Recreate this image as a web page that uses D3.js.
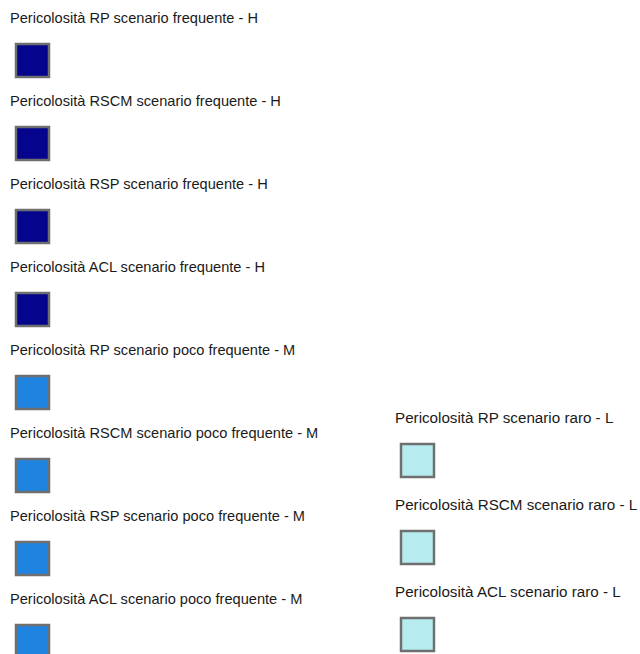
<!DOCTYPE html>
<meta charset="utf-8">
<style>
body{margin:0;background:white}
text{font-family:"Liberation Sans",Arial,sans-serif;font-size:14.6px;fill:#1a1a1a}
.right text{font-size:15.2px}
.swatch rect{stroke:#6f6f6f;stroke-width:2.5px}
</style>
<svg width="640" height="654"></svg>
<script src="https://d3js.org/d3.v7.min.js"></script>
<script>
// legend entries, left column then right column
var leftLabels = [
  "Pericolosità RP scenario frequente - H",
  "Pericolosità RSCM scenario frequente - H",
  "Pericolosità RSP scenario frequente - H",
  "Pericolosità ACL scenario frequente - H",
  "Pericolosità RP scenario poco frequente - M",
  "Pericolosità RSCM scenario poco frequente - M",
  "Pericolosità RSP scenario poco frequente - M",
  "Pericolosità ACL scenario poco frequente - M"
];
var leftClasses = ["H","H","H","H","M","M","M","M"];
var rightLabels = [
  "Pericolosità RP scenario raro - L",
  "Pericolosità RSCM scenario raro - L",
  "Pericolosità ACL scenario raro - L"
];
var rightClasses = ["L","L","L"];
var classes = ["H","M","L"];
var classColors = ["#04048c","#1f83e0","#b6ecf0"];

var svg = d3.select("svg");
var color = d3.scaleOrdinal().domain(classes).range(classColors);

var yLeft = d3.scaleBand().domain(d3.range(leftLabels.length)).range([0, 83 * leftLabels.length]);
var yRight = d3.scaleBand().domain(d3.range(rightLabels.length)).range([400, 400 + 87 * rightLabels.length]);

function column(labels, cls, y, x0, name) {
  var g = svg.append("g").attr("class", name).selectAll("g")
    .data(labels)
    .enter().append("g")
      .attr("class", "swatch")
      .attr("transform", function(d, i) { return "translate(" + x0 + "," + y(i) + ")"; });

  g.append("text")
      .attr("x", 0)
      .attr("y", 23)
      .text(function(d) { return d; });

  g.append("rect")
      .attr("x", 6)
      .attr("y", 44)
      .attr("width", 33)
      .attr("height", 33)
      .attr("fill", function(d, i) { return color(cls[i]); });
}

column(leftLabels, leftClasses, yLeft, 10, "left");
column(rightLabels, rightClasses, yRight, 395, "right");
</script>
